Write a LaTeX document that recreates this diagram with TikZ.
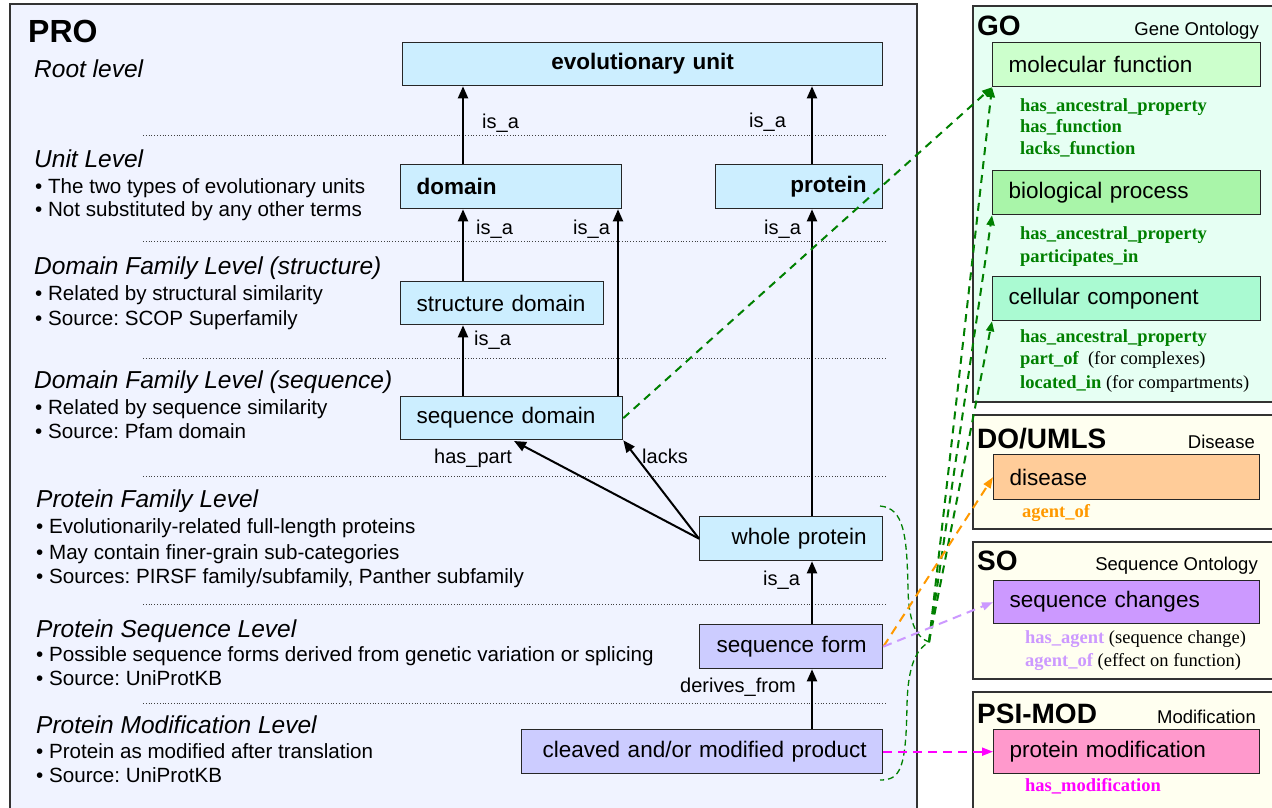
\documentclass[tikz,border=0pt]{standalone}
\usepackage{fontspec}
\setmainfont{Liberation Sans}
\newfontfamily\tms{Liberation Serif}
\usetikzlibrary{arrows.meta}
\frenchspacing
\definecolor{probg}{HTML}{F0F3FF}
\definecolor{gobg}{HTML}{E6FFF3}
\definecolor{ivorybg}{HTML}{FFFFF0}
\definecolor{nblue}{HTML}{CCEEFF}
\definecolor{nlav}{HTML}{CCCCFF}
\definecolor{nmf}{HTML}{CCFFCC}
\definecolor{nbp}{HTML}{A9F5A9}
\definecolor{ncc}{HTML}{AAFAD2}
\definecolor{ndis}{HTML}{FFCC99}
\definecolor{nsc}{HTML}{CC99FF}
\definecolor{npm}{HTML}{FF99CC}
\definecolor{ggreen}{HTML}{008000}
\definecolor{gorange}{HTML}{FF9900}
\definecolor{gpurple}{HTML}{CC99FF}
\definecolor{gmag}{HTML}{FF00FF}
\begin{document}
\frenchspacing
\begin{tikzpicture}[x=1pt,y=-1pt,
  panel/.style={draw=black!80, line width=1.5pt},
  box/.style={draw=black!85, line width=1.3pt, inner xsep=16pt, inner ysep=0pt,
    minimum height=44pt, anchor=north west, font=\fontsize{22.5}{26}\selectfont},
  arr/.style={-{Triangle[length=12pt,width=10pt]}, line width=2pt},
  lbl/.style={font=\fontsize{20}{24}\selectfont, anchor=base west, inner sep=0pt},
  head/.style={font=\fontsize{24.5}{28}\selectfont\itshape, anchor=base west, inner sep=0pt},
  bul/.style={font=\fontsize{20.6}{24}\selectfont, anchor=base west, inner sep=0pt},
  sepline/.style={dotted, line width=0.8pt, black!75},
  rel/.style={font=\tms\bfseries\fontsize{18.5}{22}\selectfont, anchor=base west, inner sep=0pt},
  ttl/.style={font=\bfseries\fontsize{28}{32}\selectfont, anchor=base west, inner sep=0pt},
  subttl/.style={font=\fontsize{18.5}{22}\selectfont, anchor=base east, inner sep=0pt},
  gdash/.style={ggreen, dash pattern=on 8pt off 6pt, line width=2pt, -{Triangle[length=10pt,width=8pt]}},
  bdash/.style={ggreen, dash pattern=on 6pt off 4pt, line width=1.3pt},
  cdash/.style={dash pattern=on 9pt off 6pt, line width=2pt, -{Triangle[length=11pt,width=8pt]}}
]
\useasboundingbox (0,0) rectangle (1272,807);
\clip (0,0) rectangle (1272,807);
\fill[white] (0,0) rectangle (1272,807);

% panels
\draw[panel, fill=probg] (10,4) rectangle (917,815);
\draw[panel, fill=gobg] (973,6) rectangle (1285,402);
\draw[panel, fill=ivorybg] (973,415) rectangle (1285,529);
\draw[panel, fill=ivorybg] (973,542) rectangle (1285,679);
\draw[panel, fill=ivorybg] (973,692) rectangle (1285,820);

% separators
\foreach \yy in {135,241,358,476,604,703}
  \draw[sepline] (143,\yy) -- (887,\yy);

% left texts
\node[font=\bfseries\fontsize{32}{36}\selectfont, anchor=base west, inner sep=0pt] (pro) at (28,42) {PRO};
\node[head] (h1) at (34,77) {Root level};
\node[head] (h2) at (34,167) {Unit Level};
\node[bul] (b21) at (35,193) {• The two types of evolutionary units};
\node[bul] (b22) at (35,216) {• Not substituted by any other terms};
\node[head] (h3) at (34,274) {Domain Family Level (structure)};
\node[bul] (b31) at (35,300) {• Related by structural similarity};
\node[bul] (b32) at (35,325) {• Source: SCOP Superfamily};
\node[head] (h4) at (34,388) {Domain Family Level (sequence)};
\node[bul] (b41) at (35,414) {• Related by sequence similarity};
\node[bul] (b42) at (35,438) {• Source: Pfam domain};
\node[head] (h5) at (36,507) {Protein Family Level};
\node[bul] (b51) at (36,533) {• Evolutionarily-related full-length proteins};
\node[bul] (b52) at (36,559) {• May contain finer-grain sub-categories};
\node[bul] (b53) at (36,583) {• Sources: PIRSF family/subfamily, Panther subfamily};
\node[head] (h6) at (36,637) {Protein Sequence Level};
\node[bul] (b61) at (36,661) {• Possible sequence forms derived from genetic variation or splicing};
\node[bul] (b62) at (36,685) {• Source: UniProtKB};
\node[head] (h7) at (36,733) {Protein Modification Level};
\node[bul] (b71) at (36,758) {• Protein as modified after translation};
\node[bul] (b72) at (36,782) {• Source: UniProtKB};

% PRO nodes
\node[box, fill=nblue, minimum width=480pt, text width=448pt, align=center, minimum height=43pt] (eu) at (402,42) {\bfseries evolutionary unit};
\node[box, fill=nblue, minimum width=221pt, text width=189pt, align=left] (dom) at (400,164) {\bfseries domain};
\node[box, fill=nblue, minimum width=167pt, text width=135pt, align=right] (prot) at (715,164) {\bfseries protein};
\node[box, fill=nblue, minimum width=203pt, text width=171pt, align=left, minimum height=43pt] (sd) at (400,281) {structure domain};
\node[box, fill=nblue, minimum width=222pt, text width=190pt, align=left, minimum height=43pt] (seqd) at (400,396) {sequence domain};
\node[box, fill=nblue, minimum width=183pt, text width=151pt, align=right] (wp) at (699,516) {whole protein};
\node[box, fill=nlav, minimum width=183pt, text width=151pt, align=right] (sf) at (699,624) {sequence form};
\node[box, fill=nlav, minimum width=361pt, text width=329pt, align=right] (cl) at (521,729) {cleaved and/or modified product};

% arrow x positions
\coordinate (xa) at (463,0);
\coordinate (xb) at (618,0);
\coordinate (xc) at (812,0);
\coordinate (hp) at (514,441);

\draw[arr] (xa |- dom.north) -- (xa |- eu.south);
\draw[arr] (xc |- prot.north) -- (xc |- eu.south);
\draw[arr] (xa |- sd.north) -- (xa |- dom.south);
\draw[arr] (xb |- seqd.north) -- (xb |- dom.south);
\draw[arr] (xa |- seqd.north) -- (xa |- sd.south);
\draw[arr] (xc |- wp.north) -- (xc |- prot.south);
\draw[arr] (wp.west) -- (hp);
\draw[arr] (wp.west) -- (seqd.south east);
\draw[arr] (xc |- sf.north) -- (xc |- wp.south);
\draw[arr] (xc |- cl.north) -- (xc |- sf.south);

% edge labels
\node[lbl] (l1) at (482,128) {is\_a};
\node[lbl] (l2) at (749,127) {is\_a};
\node[lbl] (l3) at (476,234) {is\_a};
\node[lbl] (l4) at (573,234) {is\_a};
\node[lbl] (l5) at (764,234) {is\_a};
\node[lbl] (l6) at (474,345) {is\_a};
\node[lbl] (l7) at (434,463) {has\_part};
\node[lbl] (l8) at (642,463) {lacks};
\node[lbl] (l9) at (763,585) {is\_a};
\node[lbl] (l10) at (680,692) {derives\_from};

% right panel titles
\node[ttl] (go) at (977,35) {GO};
\node[subttl] (gos) at (1259,35) {Gene Ontology};
\node[ttl] (do) at (977,448) {DO/UMLS};
\node[subttl] (dos) at (1255,448) {Disease};
\node[ttl] (so) at (977,570) {SO};
\node[subttl] (sos) at (1258,570) {Sequence Ontology};
\node[ttl] (psi) at (977,723) {PSI-MOD};
\node[subttl] (psis) at (1256,723) {Modification};

% right nodes
\node[box, fill=nmf, minimum width=268pt, text width=236pt, align=left] (mf) at (992,42) {molecular function};
\node[box, fill=nbp, minimum width=268pt, text width=236pt, align=left] (bp) at (992,170) {biological process};
\node[box, fill=ncc, minimum width=268pt, text width=236pt, align=left] (cc) at (992,276) {cellular component};
\node[box, fill=ndis, minimum width=266pt, text width=234pt, align=left, minimum height=45pt] (dis) at (993,454) {disease};
\node[box, fill=nsc, minimum width=266pt, text width=234pt, align=left, minimum height=43pt] (sc) at (993,580) {sequence changes};
\node[box, fill=npm, minimum width=266pt, text width=234pt, align=left] (pm) at (993,729) {protein modification};

% relation labels
\node[rel, ggreen] (r1) at (1020,111) {has\_ancestral\_property};
\node[rel, ggreen] (r2) at (1020,132) {has\_function};
\node[rel, ggreen] (r3) at (1020,154) {lacks\_function};
\node[rel, ggreen] (r4) at (1020,239) {has\_ancestral\_property};
\node[rel, ggreen] (r5) at (1020,262) {participates\_in};
\node[rel, ggreen] (r6) at (1020,342) {has\_ancestral\_property};
\node[rel, ggreen] (r7) at (1020,364) {part\_of\ \ \textcolor{black}{\mdseries (for complexes)}};
\node[rel, ggreen] (r8) at (1020,388) {located\_in \textcolor{black}{\mdseries(for compartments)}};
\node[rel, gorange] (r9) at (1022,517) {agent\_of};
\node[rel, gpurple] (r10) at (1025,643) {has\_agent \textcolor{black}{\mdseries(sequence change)}};
\node[rel, gpurple] (r11) at (1025,666) {agent\_of \textcolor{black}{\mdseries(effect on function)}};
\node[rel, gmag] (r12) at (1025,791) {has\_modification};

% dashed cross links
\coordinate (bt) at (929,642);
\draw[bdash] (880,506) .. controls (904,508) and (907,535) .. (908,590)
  .. controls (909,626) and (918,638) .. (bt)
  .. controls (916,650) and (908,665) .. (907,705)
  .. controls (906,770) and (900,780) .. (880,780);
\draw[gdash] (bt) -- (mf.south west);
\draw[gdash] (bt) -- (bp.south west);
\draw[gdash] (bt) -- (cc.south west);
\draw[gdash] (seqd.east) -- (mf.south west);
\draw[cdash, gorange] (sf.east) -- (dis.west);
\draw[cdash, gpurple] (sf.east) -- (sc.west);
\draw[cdash, gmag] (cl.east) -- (pm.west);
\end{tikzpicture}
\end{document}
